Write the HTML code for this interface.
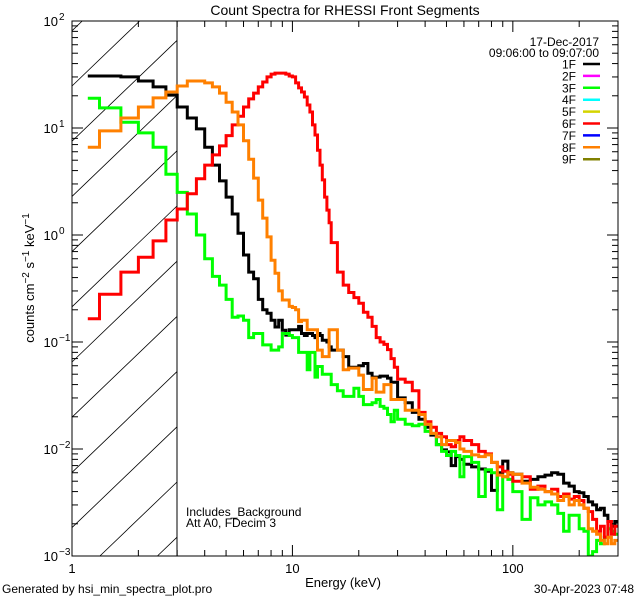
<!DOCTYPE html>
<html><head><meta charset="utf-8"><style>
html,body{margin:0;padding:0;background:#fff;width:640px;height:600px;overflow:hidden;}
svg{display:block;font-family:"Liberation Sans","DejaVu Sans",sans-serif;overflow:hidden;}
</style></head><body>
<svg id="chart" width="640" height="600" viewBox="0 0 640 600" xmlns="http://www.w3.org/2000/svg">
<defs><clipPath id="plotclip"><rect x="72" y="21" width="546" height="535"/></clipPath></defs>
<rect width="640" height="600" fill="#fff"/>
<text x="345" y="15" font-size="14" text-anchor="middle">Count Spectra for RHESSI Front Segments</text>
<g id="hatch"></g>
<line x1="177" y1="21" x2="177" y2="556" stroke="#000" stroke-width="1"/>
<g id="series" clip-path="url(#plotclip)"></g>
<rect x="72" y="21" width="546" height="535" fill="none" stroke="#000" stroke-width="1"/>
<g id="axes"></g>
<text transform="translate(34,278) rotate(-90)" font-size="13" text-anchor="middle">counts cm<tspan dy="-5" font-size="10">−2</tspan><tspan dy="5"> s</tspan><tspan dy="-5" font-size="10">−1</tspan><tspan dy="5"> keV</tspan><tspan dy="-5" font-size="10">−1</tspan></text>
<text x="343" y="587" font-size="13" text-anchor="middle">Energy (keV)</text>
<text x="2" y="593" font-size="12">Generated by hsi_min_spectra_plot.pro</text>
<text x="634" y="593" font-size="12" text-anchor="end">30-Apr-2023 07:48</text>
<text x="186" y="516" font-size="12">Includes_Background</text>
<text x="186" y="527" font-size="12">Att A0, FDecim 3</text>
<text x="599" y="46" font-size="12" text-anchor="end">17-Dec-2017</text>
<text x="599" y="57" font-size="12" text-anchor="end">09:06:00 to 09:07:00</text>
<g id="legend"></g>
</svg>
<script>
// ---- data ----
const binStarts = [1.18];
for (let k = 4; k < 45; k++) binStarts.push(k/3);
for (let e = 15; e < 30; e++) binStarts.push(e);
for (let e = 30; e < 60; e += 2.5) binStarts.push(e);
for (let e = 60; e < 100; e += 5) binStarts.push(e);
for (let e = 100; e < 300; e += 10) binStarts.push(e);
const lastBinEnd = 300;

const seg1F = [30.6,30.6,30,27.5,24.2,20.3,15.7,12.4,9.8,6.6,4.5,3.2,2.26,1.57,1.04,0.65,0.45,0.39,0.25,0.2,0.186,0.16,0.138,0.16,0.129,0.116,0.13,0.13,0.13,0.14,0.12,0.115,0.12,0.12,0.115,0.11,0.12,0.115,0.104,0.104,0.1,0.09,
0.084,0.084,0.073,0.058,0.058,0.06,0.063,0.051,0.047,0.047,0.048,0.048,0.046,0.042,0.042,
0.03,0.027,0.022,0.019,0.016,0.0135,0.011,0.0098,0.0094,0.007,0.0085,0.008,
0.0072,0.0068,0.0065,0.0062,0.0041,0.006,0.0077,0.006,
0.0058,0.005,0.0052,0.0055,0.0057,0.006,0.0058,0.0048,0.0045,0.004,0.0039,0.0036,0.0032,0.003,0.0027,0.0028,0.0024,0.0021,0.0019,0.0021];
const seg3F = [19,15.4,11.3,9.0,6.6,3.7,2.5,1.57,1.0,0.6,0.41,0.34,0.25,0.17,0.175,0.16,0.11,0.12,0.12,0.094,0.094,0.084,0.084,0.09,0.12,0.12,0.115,0.11,0.11,0.08,0.08,0.08,0.055,0.08,0.08,0.047,0.059,0.059,0.05,0.05,0.05,0.05,
0.04,0.035,0.031,0.031,0.037,0.031,0.026,0.026,0.027,0.029,0.025,0.024,0.021,0.018,0.023,
0.019,0.017,0.0165,0.017,0.0146,0.014,0.011,0.0095,0.0087,0.0095,0.0087,0.0055,
0.0085,0.0075,0.0036,0.0064,0.006,0.0027,0.0055,0.0052,
0.004,0.0022,0.0035,0.003,0.0032,0.003,0.0025,0.0017,0.0024,0.0024,0.0018,0.0017,0.001,0.0011,0.0014,0.0013,0.0015,0.0018,0.0017,0.0016];
const seg6F = [0.165,0.28,0.45,0.62,0.88,1.38,1.75,2.43,3.35,4.5,5.6,6.8,8.5,10.7,12.9,15.7,18.7,21.2,24.2,26.9,30,31.9,32.6,32.6,32.6,31.9,30.6,30,26.4,23.7,21.7,19.5,16.4,14.1,10.7,8.6,6.2,4.5,3.27,2.26,1.71,1.3,
0.85,0.45,0.34,0.29,0.26,0.23,0.19,0.17,0.14,0.11,0.1,0.095,0.085,0.07,0.058,
0.045,0.042,0.035,0.022,0.018,0.016,0.014,0.013,0.011,0.0105,0.012,0.013,
0.012,0.011,0.0095,0.009,0.0075,0.0068,0.0062,0.0058,
0.005,0.0055,0.0042,0.0045,0.004,0.0042,0.0036,0.0038,0.0034,0.0036,0.0033,0.0028,0.0026,0.0022,0.0017,0.0019,0.0015,0.0021,0.0016,0.0019];
const seg8F = [6.6,9.4,12.4,15.7,19.1,21.7,24.7,27.5,27.5,26.4,24.2,21.2,17.4,14.1,10.7,7.6,5.1,3.4,2.12,1.44,0.96,0.58,0.44,0.3,0.247,0.247,0.215,0.21,0.2,0.155,0.16,0.16,0.13,0.13,0.13,0.13,0.084,0.084,0.073,0.073,0.073,0.13,
0.13,0.084,0.055,0.057,0.057,0.049,0.036,0.036,0.046,0.034,0.034,0.04,0.04,0.029,0.029,
0.029,0.023,0.023,0.021,0.017,0.014,0.013,0.011,0.012,0.012,0.0115,0.01,
0.0095,0.0088,0.0085,0.0088,0.0075,0.0057,0.0055,0.006,
0.0058,0.0048,0.0044,0.0042,0.004,0.0038,0.0033,0.0036,0.003,0.0033,0.003,0.0028,0.0018,0.0017,0.0016,0.0014,0.0013,0.0015,0.0013,0.0014];

const legendLabels = ["1F","2F","3F","4F","5F","6F","7F","8F","9F"];
const legendColors = ["#000000","#ff00ff","#00ff00","#00ffff","#d4d400","#ff0000","#0000ff","#ff8000","#808000"];
const yTickExps = [-3,-2,-1,0,1,2];
const xTickLabels = ["1","10","100"];
const xTickValues = [1,10,100];

// ---- axes ----
const X0=72, X1=618, Y0=556, Y1=21;
const xMin=1, xMax=300, yMin=1e-3, yMax=1e2;
function xs(e){return X0+(Math.log10(e)-Math.log10(xMin))/(Math.log10(xMax)-Math.log10(xMin))*(X1-X0);}
function ys(v){v=Math.max(v,yMin*0.7);return Y0-(Math.log10(v)-Math.log10(yMin))/(Math.log10(yMax)-Math.log10(yMin))*(Y0-Y1);}
const NS="http://www.w3.org/2000/svg";
function mk(tag,attrs,parent){const el=document.createElementNS(NS,tag);for(const k in attrs)el.setAttribute(k,attrs[k]);parent.appendChild(el);return el;}

// hatch (lines y = c - s*(x-72), clipped analytically to the box)
const hatch=document.getElementById('hatch');
const HS=0.96, HX0=72, HX1=177;
for(let c=86-55.2*2;c<=700;c+=55.2){
  let xa=HX0, ya=c, xb=HX1, yb=c-HS*(HX1-HX0);
  if(ya>Y0){xa=HX0+(c-Y0)/HS; ya=Y0;}
  if(yb<Y1){xb=HX0+(c-Y1)/HS; yb=Y1;}
  if(xa>=xb) continue;
  const l=mk('line',{x1:xa.toFixed(1),y1:ya.toFixed(1),x2:xb.toFixed(1),y2:yb.toFixed(1),stroke:'#000','stroke-width':0.8},hatch);
  
  
}

// series
const series=document.getElementById('series');
function drawSeries(vals,color,name){
  let d='';
  for(let i=0;i<vals.length;i++){
    const lo=binStarts[i], hi=(i+1<binStarts.length)?binStarts[i+1]:lastBinEnd;
    const y=ys(vals[i]).toFixed(1);
    d+=(i===0?'M':'L')+xs(lo).toFixed(1)+','+y+'L'+xs(hi).toFixed(1)+','+y;
  }
  const p=mk('path',{d:d,fill:'none',stroke:color,'stroke-width':3,'stroke-linejoin':'miter'},series);
  
  
}
drawSeries(seg1F,'#000000','series-1f');
drawSeries(seg3F,'#00ff00','series-3f');
drawSeries(seg6F,'#ff0000','series-6f');
drawSeries(seg8F,'#ff8000','series-8f');

// ticks
const axes=document.getElementById('axes');
function tick(x1,y1,x2,y2){const t=mk('line',{x1:x1,y1:y1,x2:x2,y2:y2,stroke:'#000','stroke-width':1},axes);
  
  }
for(let dec=-3;dec<=1;dec++){
  for(let m=1;m<=9;m++){
    const y=ys(m*Math.pow(10,dec)); const L=(m===1)?11:6;
    tick(X0,y,X0+L,y); tick(X1,y,X1-L,y);
  }
}
tick(X0,Y1,X0+11,Y1);tick(X1,Y1,X1-11,Y1);
for(let dec=0;dec<=2;dec++){
  for(let m=1;m<=9;m++){
    const e=m*Math.pow(10,dec); if(e>xMax)break;
    const x=xs(e); const L=(m===1)?11:6;
    tick(x,Y0,x,Y0-L); tick(x,Y1,x,Y1+L);
  }
}
yTickExps.forEach(function(ex){
  const y=ys(Math.pow(10,ex));
  const t=mk('text',{x:58,y:y+5,'font-size':13,'text-anchor':'end'},axes);
  t.textContent='10';
  
  
  const s=mk('text',{x:59,y:y-1,'font-size':10},axes);
  s.textContent=(ex<0?'\u2212':'')+Math.abs(ex);
  
  
});
xTickValues.forEach(function(v,i){
  const t=mk('text',{x:xs(v),y:573,'font-size':13,'text-anchor':'middle'},axes);
  t.textContent=xTickLabels[i];
  
  
});

// legend
const lg=document.getElementById('legend');
legendLabels.forEach(function(lab,i){
  const y=64+i*11.9;
  const t=mk('text',{x:576,y:y+4.5,'font-size':12,'text-anchor':'end'},lg);
  t.textContent=lab;
  
  
  const l=mk('line',{x1:583,y1:y,x2:600,y2:y,stroke:legendColors[i],'stroke-width':2.5},lg);
  
  
});
</script>
</body></html>
